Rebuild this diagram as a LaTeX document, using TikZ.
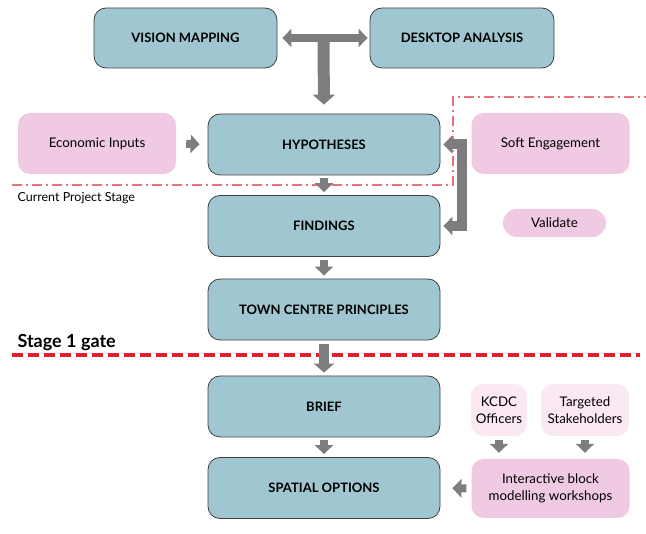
\documentclass[tikz,border=0pt]{standalone}
\usepackage{fontspec}
\setmainfont{Lato}
\usetikzlibrary{arrows.meta, calc}
\definecolor{boxBlue}{RGB}{160, 198, 209}
\definecolor{boxPink}{RGB}{240, 202, 226}
\definecolor{boxPinkLight}{RGB}{250, 232, 242}
\definecolor{arrowGrey}{RGB}{125, 125, 127}
\definecolor{gateRed}{RGB}{228, 30, 40}
\definecolor{stageRed}{RGB}{236, 112, 122}
\newcommand{\stageList}{%
    hyp/144.5/HYPOTHESES,
    findings/226/FINDINGS,
    town/309.5/TOWN CENTRE PRINCIPLES,
    brief/406.5/BRIEF,
    spatial/488/SPATIAL OPTIONS
}

\begin{document}
\begin{tikzpicture} [
        x=1pt, y=-1pt,
        stage/.style={draw=black!75, line width=0.8pt, fill=boxBlue, rounded corners=12pt, minimum width=232pt, minimum height=61pt, font=\fontsize{13}{15}\selectfont\bfseries},
        input/.style={fill=boxPink, rounded corners=12pt, minimum width=158pt, minimum height=61pt, align=center, font=\fontsize{13.3}{17}\selectfont},
        stakeholder/.style={input, fill=boxPinkLight, minimum height=52pt},
        tip/.style={-{Triangle[width=18pt, length=9pt]}},
        both tips/.style={{Triangle[width=18pt, length=9pt]}-{Triangle[width=18pt, length=9pt]}},
        flow/.style={draw=arrowGrey, line width=8pt, tip, shorten <=3pt, shorten >=3pt},
        stage line/.style={stageRed, line width=1.5pt, dash pattern=on 10pt off 4pt on 2pt off 4pt},
        gate line/.style={gateRed, line width=4pt, dash pattern=on 11pt off 5pt},
    ]
    \useasboundingbox (0,0) rectangle (646,534);

    % stage boundaries
    \draw[stage line] (12,185) -| (453,97) -- (646,97);
    \node[anchor=west, font=\fontsize{12.5}{14}\selectfont] (current) at (14,198) {Current Project Stage};
    \draw[gate line] (12,355) -- (640,355);
    \node[anchor=west, font=\fontsize{18}{20}\selectfont\bfseries] (gate) at (14,343) {Stage 1 gate};

    \node[stage, minimum width=183pt, minimum height=60pt] (vision) at (185.5,38) {VISION MAPPING};
    \node[stage, minimum width=184pt, minimum height=60pt] (desktop) at (462,38) {DESKTOP ANALYSIS};

    \foreach \name/\y/\label [expand list] in {\stageList} {
        \node[stage] (\name) at (324,\y) {\label};
    }

    \node[input] (econ) at (97,143.5) {Economic Inputs};
    \node[input] (soft) at (550.5,143.5) {Soft Engagement};
    \node[input, minimum width=103pt, minimum height=28pt, rounded corners=14pt] (validate) at (554.5,223) {Validate};
    \node[stakeholder, minimum width=56pt] (kcdc) at (499,410) {KCDC\\Officers};
    \node[stakeholder, minimum width=88pt] (targeted) at (585,410) {Targeted\\Stakeholders};
    \node[input, minimum height=59pt] (workshop) at (550.5,488.5) {Interactive block\\modelling workshops};

    % arrows
    \coordinate (split) at ($(vision.east)!0.5!(desktop.west)$);
    \draw[flow, both tips, shorten <=5pt, shorten >=2pt] (vision.east) -- (desktop.west);
    \draw[flow, line width=12pt, -{Triangle[width=22pt, length=10pt]}, shorten <=0pt, shorten >=9pt] (split) -- (hyp.north);

    \foreach \a/\b in {hyp/findings, findings/town, brief/spatial} {
        \draw[flow] (\a.south) -- (\b.north);
    }
    \draw[flow, line width=10pt, -{Triangle[width=20pt, length=9pt]}, shorten <=4pt] (town.south) -- (brief.north);

    \draw[flow, shorten <=10pt, shorten >=8pt] (econ.east) -- (hyp.west);
    \draw[flow, line width=10pt, both tips] (hyp.east) -- ++(22,0) |- (findings.east);

    \foreach \a in {kcdc, targeted} {
        \draw[flow, shorten <=4pt, shorten >=6pt] (\a.south) -- (\a.south |- workshop.north);
    }
    \draw[flow, shorten <=5pt, shorten >=12pt] (workshop.west) -- (spatial.east);
\end{tikzpicture}
\end{document}
